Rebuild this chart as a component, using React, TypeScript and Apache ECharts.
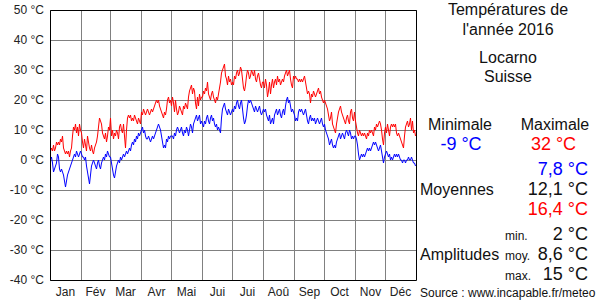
import React, { useEffect, useRef } from 'react';
import * as echarts from 'echarts';

const monthNames = ['Jan', 'Fév', 'Mar', 'Avr', 'Mai', 'Jui', 'Jui', 'Aoû', 'Sep', 'Oct', 'Nov', 'Déc'];
const monthLengths = [31, 29, 31, 30, 31, 30, 31, 31, 30, 31, 30, 31];

// Daily maxima (°C), 2016
const maxJan = [3,4,3,5,3,4,6,5,6,5,7,6,8,4,3,2,3,2,3,1,3,4,8,11,10,12,9,11,8,12,10];
const maxFeb = [9,6,4,7,5,3,8,6,4,3,5,3,2,4,5,6,8,11,14,13,12,9,8,7,9,6,8,11,10];
const maxMar = [14,8,10,7,9,8,10,9,7,11,12,10,9,12,8,4,10,14,15,14,15,13,14,13,15,14,13,12,14,13,12];
const maxApr = [16,15,17,16,15,16,17,16,15,16,17,16,17,18,19,20,19,20,18,17,16,15,14,16,15,17,20,21,19,20];
const maxMay = [18,21,19,16,20,17,15,16,18,17,16,15,18,17,19,18,17,21,23,24,25,22,24,23,19,17,21,18,22,20,21];
const maxJun = [21,23,22,24,23,26,22,21,20,22,23,21,20,19,21,20,22,24,26,29,30,31,32,28,27,25,28,26,27,25];
const maxJul = [26,25,28,27,29,30,28,29,31,30,27,24,23,25,28,30,29,27,28,30,29,28,30,27,26,28,29,27,25,24,26];
const maxAug = [26,24,27,25,21,23,26,22,25,27,24,26,27,25,28,26,27,25,26,27,26,28,29,30,28,29,30,27,25,24,28];
const maxSep = [27,28,27,27,26,27,26,27,26,27,28,26,24,22,23,22,19,22,21,23,22,21,22,23,24,22,23,21,20,19];
const maxOct = [20,19,18,17,15,13,14,16,12,11,10,9,12,14,16,17,18,16,15,14,13,12,14,15,13,12,16,17,14,13,16];
const maxNov = [13,11,9,8,10,9,8,9,8,9,8,7,9,8,10,9,10,9,8,11,10,12,11,12,13,12,10,7,5,9];
const maxDec = [11,9,12,10,8,11,12,11,12,11,12,9,8,9,8,7,6,5,4,8,11,12,13,11,12,14,10,13,9,10,8];

// Daily minima (°C), 2016
const minJan = [0,1,-1,-4,-3,-2,-1,2,1,-3,-4,-3,-4,-5,-7,-9,-7,-5,-4,-3,-2,-1,0,1,2,1,3,2,1,2,3];
const minFeb = [2,1,1,0,1,-2,-4,-6,-8,-5,-2,-1,0,-1,-2,-3,-1,0,-2,-3,-1,0,1,0,2,1,3,2,1];
const minMar = [1,-1,-3,-5,-6,-4,-2,-1,0,-1,1,0,1,2,1,2,3,2,3,4,3,5,6,5,7,6,8,7,9,8,9];
const minApr = [10,11,9,10,8,7,7,8,7,6,7,8,7,8,9,10,11,12,11,10,8,6,4,5,4,7,6,8,7,8];
const minMay = [8,8,7,9,8,10,11,10,9,10,11,9,8,10,9,11,10,8,10,12,11,9,12,13,14,15,13,14,15,12,13];
const minJun = [12,11,13,12,14,15,13,12,14,15,13,14,12,11,12,10,11,10,9,14,17,18,19,17,16,15,17,16,15,16];
const minJul = [17,16,18,17,19,20,18,17,19,20,17,14,12,13,15,18,20,19,20,19,18,17,16,18,17,16,17,18,16,15,16];
const minAug = [17,16,17,15,14,13,15,12,13,14,12,15,16,17,15,16,17,15,14,16,17,15,18,20,21,19,20,18,16,17,16];
const minSep = [15,13,14,13,16,17,16,17,16,15,16,17,15,13,12,14,15,13,14,13,14,12,13,14,13,12,13,14,12,11];
const minOct = [12,10,9,8,7,5,6,7,5,4,5,4,6,7,8,9,7,8,9,8,7,9,10,9,8,10,9,7,8,7,8];
const minNov = [8,7,5,2,0,1,2,1,2,1,2,3,4,3,4,3,4,5,6,5,6,5,4,3,4,5,3,1,-1,1];
const minDec = [2,3,2,1,2,0,1,0,1,2,1,2,1,2,1,0,0,-1,0,0,-1,0,0,1,0,0,1,0,-1,-1,-2];

const maxByMonth = [maxJan, maxFeb, maxMar, maxApr, maxMay, maxJun, maxJul, maxAug, maxSep, maxOct, maxNov, maxDec];
const minByMonth = [minJan, minFeb, minMar, minApr, minMay, minJun, minJul, minAug, minSep, minOct, minNov, minDec];

const yMin = -40;
const yMax = 50;
const yStep = 10;

const FONT = '"Liberation Sans", Arial, sans-serif';

export default function App() {
  const ref = useRef<HTMLDivElement>(null);

  useEffect(() => {
    if (!ref.current) return;
    const chart = echarts.init(ref.current, undefined, { renderer: 'svg' });

    const days: string[] = [];
    const monthStart = new Set<number>();
    const monthMid = new Map<number, string>();
    let idx = 0;
    monthLengths.forEach((len, m) => {
      if (idx > 0) monthStart.add(idx);
      monthMid.set(idx + Math.floor(len / 2), monthNames[m]);
      for (let d = 1; d <= len; d++) {
        days.push(`2016-${String(m + 1).padStart(2, '0')}-${String(d).padStart(2, '0')}`);
      }
      idx += len;
    });
    const maxData = ([] as number[]).concat(...maxByMonth);
    const minData = ([] as number[]).concat(...minByMonth);

    const txt = (text: string, x: number, y: number, size: number, fill: string, align: string) => ({
      type: 'text',
      x,
      y,
      z: 100,
      style: {
        text,
        fill,
        font: `${size}px ${FONT}`,
        fontSize: size,
        fontFamily: FONT,
        align,
        textAlign: align,
        verticalAlign: 'middle',
        textVerticalAlign: 'middle',
      },
    });

    const txtColor = '#111';

    chart.setOption({
      animation: false,
      grid: { left: 50, right: 184, top: 10, bottom: 20, containLabel: false },
      xAxis: {
        type: 'category',
        data: days,
        boundaryGap: true,
        axisLine: { show: false },
        axisTick: { show: false },
        axisLabel: {
          interval: (i: number) => monthMid.has(i),
          formatter: (_v: string, i: number) => monthMid.get(i) || '',
          color: '#222',
          fontSize: 12,
          fontFamily: FONT,
          margin: 6,
        },
        splitLine: {
          show: true,
          interval: (i: number) => monthStart.has(i),
          lineStyle: { color: '#808080', width: 1 },
        },
      },
      yAxis: {
        type: 'value',
        min: yMin,
        max: yMax,
        interval: yStep,
        axisLine: { show: false },
        axisTick: { show: false },
        axisLabel: {
          formatter: (v: number) => `${v} °C`,
          color: '#222',
          fontSize: 12,
          fontFamily: FONT,
          margin: 6,
        },
        splitLine: { show: true, lineStyle: { color: '#808080', width: 1 } },
      },
      series: [
        {
          type: 'line',
          data: maxData,
          symbol: 'none',
          lineStyle: { color: '#ff0000', width: 1 },
          itemStyle: { color: '#ff0000' },
        },
        {
          type: 'line',
          data: minData,
          symbol: 'none',
          lineStyle: { color: '#0000ff', width: 1 },
          itemStyle: { color: '#0000ff' },
        },
      ],
      graphic: [
        {
          type: 'rect',
          z: 100,
          shape: { x: 50.5, y: 10.5, width: 366, height: 270 },
          style: { fill: 'none', stroke: '#000', lineWidth: 1 },
        },
        txt('Températures de', 508, 9.5, 16, txtColor, 'center'),
        txt("l'année 2016", 508, 29.5, 16, txtColor, 'center'),
        txt('Locarno', 508, 57, 16, txtColor, 'center'),
        txt('Suisse', 508, 76, 16, txtColor, 'center'),
        txt('Minimale', 460, 124.4, 16, txtColor, 'center'),
        txt('Maximale', 555, 124.4, 16, txtColor, 'center'),
        txt('-9 °C', 461, 143.7, 18, '#0000ff', 'center'),
        txt('32 °C', 553.5, 143.7, 18, '#ff0000', 'center'),
        txt('7,8 °C', 588, 168.7, 18, '#0000ff', 'right'),
        txt('Moyennes', 420, 189.4, 16, txtColor, 'left'),
        txt('12,1 °C', 588, 188.7, 18, txtColor, 'right'),
        txt('16,4 °C', 588, 208.7, 18, '#ff0000', 'right'),
        txt('min.', 505, 235.8, 12, txtColor, 'left'),
        txt('2 °C', 588, 233.7, 18, txtColor, 'right'),
        txt('Amplitudes', 420, 254.4, 16, txtColor, 'left'),
        txt('moy.', 505, 255.8, 12, txtColor, 'left'),
        txt('8,6 °C', 588, 253.7, 18, txtColor, 'right'),
        txt('max.', 505, 275.8, 12, txtColor, 'left'),
        txt('15 °C', 588, 273.7, 18, txtColor, 'right'),
        txt('Source : www.incapable.fr/meteo', 420, 292.8, 12, txtColor, 'left'),
      ],
    });

    return () => chart.dispose();
  }, []);

  return (
    <div
      ref={ref}
      style={{ position: 'fixed', left: 0, top: 0, width: 600, height: 300, background: '#fff' }}
    />
  );
}
